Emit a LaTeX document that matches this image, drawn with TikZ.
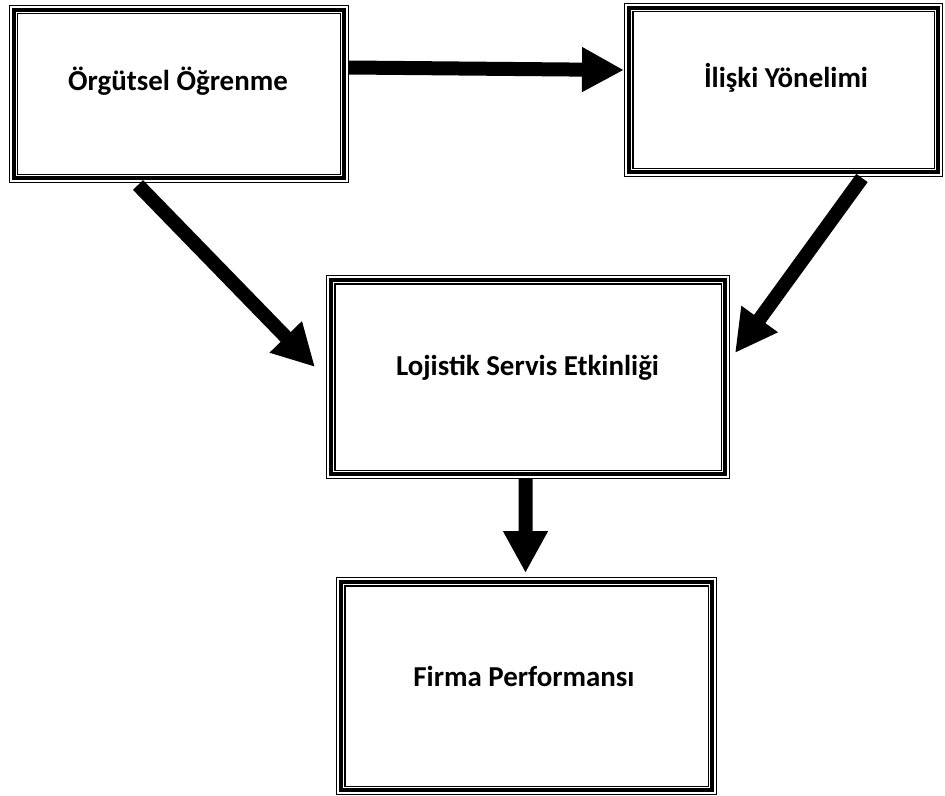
\documentclass[tikz,border=0pt]{standalone}
\usepackage{fontspec}
\setmainfont{Carlito}
\usetikzlibrary{arrows.meta,calc}
\tikzset{
  tribox/.style={draw=black, line width=9.5bp, inner sep=0pt,
    postaction={draw=white, line width=6.7bp},
    postaction={draw=black, line width=3.8bp}},
  lbl/.style={font=\fontsize{29}{35}\selectfont\bfseries, anchor=base, inner sep=0pt},
  arr/.style={-{Triangle[length=42bp,width=42bp]}, line width=14bp, draw=black},
}
\begin{document}
\begin{tikzpicture}[x=1bp,y=-1bp]
\useasboundingbox (0,0) rectangle (945,796);
% boxes
\node[tribox, minimum width=330.5bp, minimum height=168.5bp] (b1) at (179,94) {};
\node[tribox, minimum width=309.5bp, minimum height=164.5bp] (b2) at (783.5,90) {};
\node[tribox, minimum width=394.5bp, minimum height=194.5bp] (b3) at (528,377) {};
\node[tribox, minimum width=371.5bp, minimum height=208.5bp] (b4) at (526.5,686) {};
% labels
\node[lbl] (t1) at (178,90.5) {Örgütsel Öğrenme};
\node[lbl] (t2) at (786,88) {İlişki Yönelimi};
\node[lbl] (t3) at (527.5,375) {Lojistik Servis Etkinliği};
\node[lbl] (t4) at (524,686) {Firma Performansı};
% arrows
\draw[arr] ([yshift=26.5bp]b1.east) -- ([yshift=20bp]b2.west);
\draw[arr] ([xshift=-41bp,yshift=-2bp]b1.south) -- ([xshift=-11bp,yshift=10bp]b3.west);
\draw[arr] ([xshift=78.5bp,yshift=-1bp]b2.south) -- ([xshift=5bp,yshift=24bp]b3.east);
\draw[arr] ([xshift=-2.5bp]b3.south) -- ([xshift=-1bp,yshift=4bp]b4.north);
\end{tikzpicture}
\end{document}
